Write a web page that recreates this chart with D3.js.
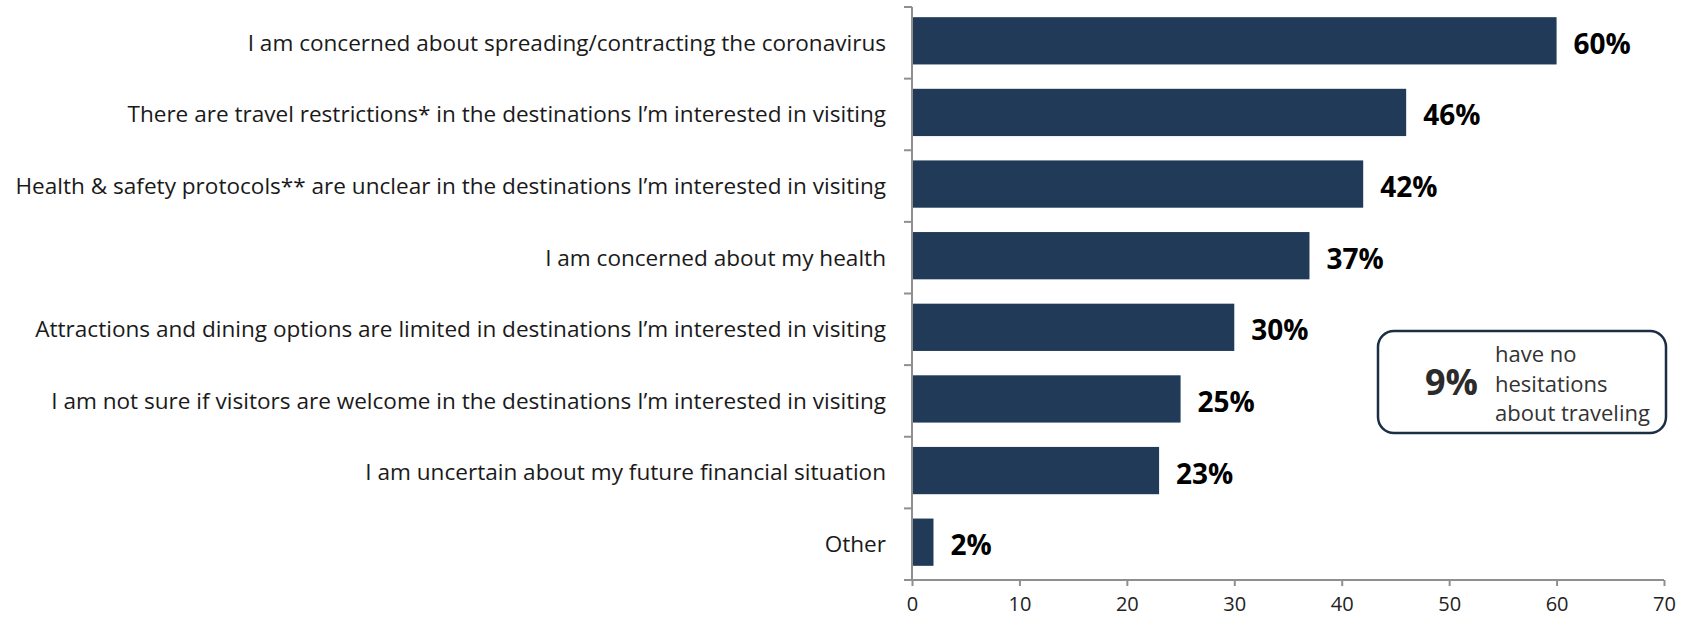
<!DOCTYPE html>
<html>
<head>
<meta charset="utf-8">
<script src="https://cdn.jsdelivr.net/npm/d3@7"></script>
<style>
  html, body { margin: 0; padding: 0; background: #fff; }
  svg { display: block; font-family: "Open Sans", "Noto Sans", sans-serif; }
</style>
</head>
<body>
<svg id="chart" width="1692" height="621"></svg>
<script>
// Reasons for hesitating to travel (% of respondents)
const categories = [
  "I am concerned about spreading/contracting the coronavirus",
  "There are travel restrictions* in the destinations I\u2019m interested in visiting",
  "Health & safety protocols** are unclear in the destinations I\u2019m interested in visiting",
  "I am concerned about my health",
  "Attractions and dining options are limited in destinations I\u2019m interested in visiting",
  "I am not sure if visitors are welcome in the destinations I\u2019m interested in visiting",
  "I am uncertain about my future financial situation",
  "Other"
];
const values = [60, 46, 42, 37, 30, 25, 23, 2];
const xTicks = [0, 10, 20, 30, 40, 50, 60, 70];
const noteValue = "9%";
const noteLines = ["have no", "hesitations", "about traveling"];

const svg = d3.select("#chart");
const plot = { left: 912, right: 1664, top: 7, bottom: 580 };

const x = d3.scaleLinear().domain([0, 70]).range([plot.left, plot.right]);
const y = d3.scaleBand()
  .domain(categories)
  .range([plot.top, plot.bottom])
  .paddingInner(0.34)
  .paddingOuter(0.17);

const axisColor = "#8f8f8f";
const barColor = "#203a57";

// Bars
svg.append("g")
  .selectAll("rect")
  .data(values)
  .join("rect")
  .attr("x", x(0))
  .attr("y", (d, i) => y(categories[i]) - 2)
  .attr("width", d => x(d) - x(0))
  .attr("height", y.bandwidth())
  .attr("fill", barColor);

// Value labels
svg.append("g")
  .selectAll("text")
  .data(values)
  .join("text")
  .attr("x", d => x(d) + 17)
  .attr("y", (d, i) => y(categories[i]) + y.bandwidth() / 2 + 11)
  .attr("font-size", 28)
  .attr("font-weight", 700)
  .attr("fill", "#000")
  .text(d => d + "%");

// Category axis: vertical line with ticks between bands
const step = y.step();
const boundaries = d3.range(categories.length + 1).map(i => plot.top + i * step);
const yAxis = svg.append("g");
yAxis.append("line")
  .attr("x1", plot.left).attr("x2", plot.left)
  .attr("y1", plot.top).attr("y2", plot.bottom)
  .attr("stroke", axisColor).attr("stroke-width", 2);
yAxis.selectAll("line.tick")
  .data(boundaries)
  .join("line")
  .attr("class", "tick")
  .attr("x1", plot.left - 8).attr("x2", plot.left)
  .attr("y1", d => d).attr("y2", d => d)
  .attr("stroke", axisColor).attr("stroke-width", 2);

// Category labels, sized so the longest one spans the left margin
const labels = svg.append("g")
  .attr("font-size", 20)
  .attr("fill", "#1a1a1a")
  .attr("text-anchor", "end");
const labelSel = labels.selectAll("text")
  .data(categories)
  .join("text")
  .attr("x", plot.left - 26)
  .attr("y", d => y(d) + y.bandwidth() / 2)
  .attr("dy", "0.35em")
  .text(d => d);
let widest = 0;
labelSel.each(function () { widest = Math.max(widest, this.getComputedTextLength()); });
const labelSize = 20 * 871 / widest;
labels.attr("font-size", labelSize);

// Value axis
const xAxis = svg.append("g")
  .attr("transform", `translate(0,${plot.bottom})`)
  .call(d3.axisBottom(x).tickValues(xTicks).tickSize(6).tickSizeOuter(0).tickPadding(11));
xAxis.select(".domain").remove();
xAxis.insert("line", ":first-child")
  .attr("x1", plot.left - 8).attr("x2", plot.right)
  .attr("stroke", axisColor).attr("stroke-width", 2);
xAxis.selectAll(".tick line").attr("stroke", axisColor).attr("stroke-width", 2);
xAxis.selectAll(".tick text")
  .attr("font-family", "\"Open Sans\", sans-serif")
  .attr("font-size", 20)
  .attr("fill", "#222");

// Callout box
const note = svg.append("g");
note.append("rect")
  .attr("x", 1378).attr("y", 331)
  .attr("width", 288).attr("height", 102)
  .attr("rx", 16).attr("ry", 16)
  .attr("fill", "#fff")
  .attr("stroke", "#1b2e44")
  .attr("stroke-width", 2.5);
note.append("text")
  .attr("x", 1425).attr("y", 395)
  .attr("font-size", 36)
  .attr("font-weight", 700)
  .attr("fill", "#2b2b2b")
  .text(noteValue);
note.selectAll("text.line")
  .data(noteLines)
  .join("text")
  .attr("class", "line")
  .attr("x", 1495)
  .attr("y", (d, i) => 362 + i * 29.5)
  .attr("font-size", 22)
  .attr("fill", "#333")
  .text(d => d);
</script>
</body>
</html>
